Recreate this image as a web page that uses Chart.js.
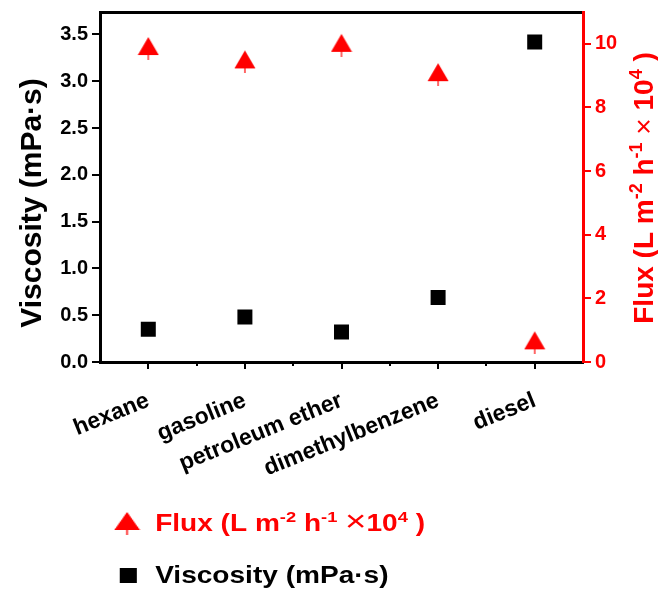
<!DOCTYPE html>
<html><head><meta charset="utf-8">
<script src="https://cdn.jsdelivr.net/npm/chart.js@4/dist/chart.umd.min.js"></script>
<style>html,body{margin:0;padding:0;background:#fff;}#wrap{width:658px;height:594px;}</style>
</head><body><div id="wrap"><canvas id="c" width="658" height="594"></canvas></div>
<script>
const categories = ['hexane', 'gasoline', 'petroleum ether', 'dimethylbenzene', 'diesel'];
const viscosity = [0.35, 0.48, 0.32, 0.69, 3.42];
const flux = [9.93, 9.51, 10.03, 9.11, 0.68];
const viscosityTicks = [0, 0.5, 1.0, 1.5, 2.0, 2.5, 3.0, 3.5];
const fluxTicks = [0, 2, 4, 6, 8, 10];
const viscosityLabel = 'Viscosity (mPa·s)';
const fluxLabel = 'Flux (L m⁻² h⁻¹ ×10⁴ )';
const viscosityTitle = 'Viscosity (mPa·s)';
const fluxTitle = 'Flux (L m⁻² h⁻¹ × 10⁴ )';

const RED = '#ff0000';
const FONT = '"Liberation Sans", Arial, sans-serif';

// triangle marker with small stem (as in the original symbol)
function makeTriangle() {
  const c = document.createElement('canvas');
  c.width = 22; c.height = 28;
  const g = c.getContext('2d');
  g.fillStyle = RED; g.strokeStyle = RED;
  g.beginPath(); g.moveTo(11, 5); g.lineTo(21.5, 23); g.lineTo(0.5, 23); g.closePath(); g.fill();
  g.lineWidth = 1.2; g.beginPath(); g.moveTo(11, 22); g.lineTo(11, 28); g.stroke();
  return c;
}
const tri = makeTriangle();

const supMap = {'⁻': '-', '²': '2', '¹': '1', '⁴': '4', '³': '3', '⁰': '0'};
function parseRich(text) {
  const segs = [];
  for (const ch of text) {
    const kind = supMap[ch] !== undefined ? 'sup' : (ch === '×' ? 'light' : 'n');
    const c = supMap[ch] !== undefined ? supMap[ch] : ch;
    const last = segs[segs.length - 1];
    if (last && last.kind === kind) last.t += c; else segs.push({t: c, kind});
  }
  return segs;
}
function drawRich(ctx, text, x, y, size, color, align, timesScale) {
  const ts = timesScale || 1;
  const segs = parseRich(text);
  const fontFor = k => k === 'sup' ? `bold ${Math.round(size * 0.64)}px ${FONT}` :
    (k === 'light' ? `normal ${Math.round(size * ts)}px ${FONT}` : `bold ${size}px ${FONT}`);
  let total = 0;
  segs.forEach(s => { ctx.font = fontFor(s.kind); s.w = ctx.measureText(s.t).width; total += s.w; });
  let cx = align === 'center' ? x - total / 2 : x;
  ctx.fillStyle = color; ctx.textBaseline = 'alphabetic'; ctx.textAlign = 'left';
  segs.forEach(s => {
    ctx.font = fontFor(s.kind);
    ctx.fillText(s.t, cx, s.kind === 'sup' ? y - size * 0.38 : y);
    cx += s.w;
  });
}

const decor = {
  id: 'decor',
  afterDraw(chart) {
    const ctx = chart.ctx;
    const xs = chart.scales.x, area = chart.chartArea;
    // minor ticks between categories
    ctx.save();
    ctx.strokeStyle = '#000'; ctx.lineWidth = 2;
    for (let i = 0; i < categories.length - 1; i++) {
      const px = Math.round((xs.getPixelForValue(i) + xs.getPixelForValue(i + 1)) / 2);
      ctx.beginPath(); ctx.moveTo(px, area.bottom); ctx.lineTo(px, area.bottom + 4); ctx.stroke();
    }
    ctx.restore();
    // left axis title
    ctx.save();
    ctx.translate(41, (area.top + area.bottom) / 2 + 16);
    ctx.rotate(-Math.PI / 2);
    drawRich(ctx, viscosityTitle, 0, 0, 30, '#000', 'center');
    ctx.restore();
    // right axis title
    ctx.save();
    ctx.translate(653, (area.top + area.bottom) / 2 + 1);
    ctx.rotate(-Math.PI / 2);
    drawRich(ctx, fluxTitle, 0, 0, 28, RED, 'center');
    ctx.restore();
    // legend
    const ds = chart.data.datasets;
    ctx.save();
    ctx.translate(110, 0);
    ctx.scale(1.22, 1);
    ctx.drawImage(tri, 14 - 11, 520 - 14 + 1);
    drawRich(ctx, ds[0].label, 37, 531, 23, RED, 'left', 1.3);
    ctx.fillStyle = '#000';
    ctx.fillRect(15 - 7, 575.5 - 7.5, 14, 15);
    drawRich(ctx, ds[1].label, 37, 583, 23, '#000', 'left');
    ctx.restore();
  }
};

const tickFont = {family: FONT, size: 20, weight: 'bold'};
const noPadV = s => { s.paddingTop = 0; s.paddingBottom = 0; };

new Chart(document.getElementById('c'), {
  type: 'line',
  data: {
    labels: categories,
    datasets: [
      {label: fluxLabel, data: flux, yAxisID: 'y1', xAxisID: 'x', showLine: false,
       pointStyle: tri, pointRadius: 11, backgroundColor: RED, borderColor: RED},
      {label: viscosityLabel, data: viscosity, yAxisID: 'y', xAxisID: 'x', showLine: false,
       pointStyle: 'rect', pointRadius: 10.6, pointBorderWidth: 0, backgroundColor: '#000', borderColor: '#000'}
    ]
  },
  options: {
    responsive: false, animation: false, devicePixelRatio: 1,
    layout: {padding: {top: 0, left: 0, right: 0, bottom: 104}},
    plugins: {legend: {display: false}, tooltip: {enabled: false}},
    scales: {
      x: {
        type: 'category', position: 'bottom', offset: true,
        afterFit: s => { s.height = 128; s.paddingLeft = 0; s.paddingRight = 0; },
        border: {display: true, color: '#000', width: 3},
        grid: {drawOnChartArea: false, drawTicks: true, tickLength: 7, lineWidth: 2, color: '#000', offset: false},
        ticks: {color: '#000', font: {family: FONT, size: 23, weight: 'bold'}, minRotation: 22, maxRotation: 22,
                autoSkip: false, padding: 18}
      },
      xTop: {
        type: 'category', position: 'top', labels: categories, offset: true,
        afterFit: s => { s.height = 9; s.paddingLeft = 0; s.paddingRight = 0; },
        border: {display: true, color: '#000', width: 3},
        grid: {display: false}, ticks: {display: false}
      },
      y: {
        type: 'linear', position: 'left', min: 0, max: 3.74,
        afterBuildTicks: s => { s.ticks = viscosityTicks.map(v => ({value: v})); },
        afterFit: s => { s.width = 100; noPadV(s); },
        border: {display: true, color: '#000', width: 3},
        grid: {drawOnChartArea: false, drawTicks: true, tickLength: 8, lineWidth: 2, color: '#000'},
        ticks: {color: '#000', font: tickFont, padding: 4, callback: v => Number(v).toFixed(1)}
      },
      y1: {
        type: 'linear', position: 'right', min: 0, max: 11,
        afterBuildTicks: s => { s.ticks = fluxTicks.map(v => ({value: v})); },
        afterFit: s => { s.width = 75; noPadV(s); },
        border: {display: true, color: RED, width: 3},
        grid: {drawOnChartArea: false, drawTicks: true, tickLength: 8, lineWidth: 2, color: RED},
        ticks: {color: RED, font: tickFont, padding: 4, callback: v => String(v)}
      }
    }
  },
  plugins: [decor]
});
</script></body></html>
